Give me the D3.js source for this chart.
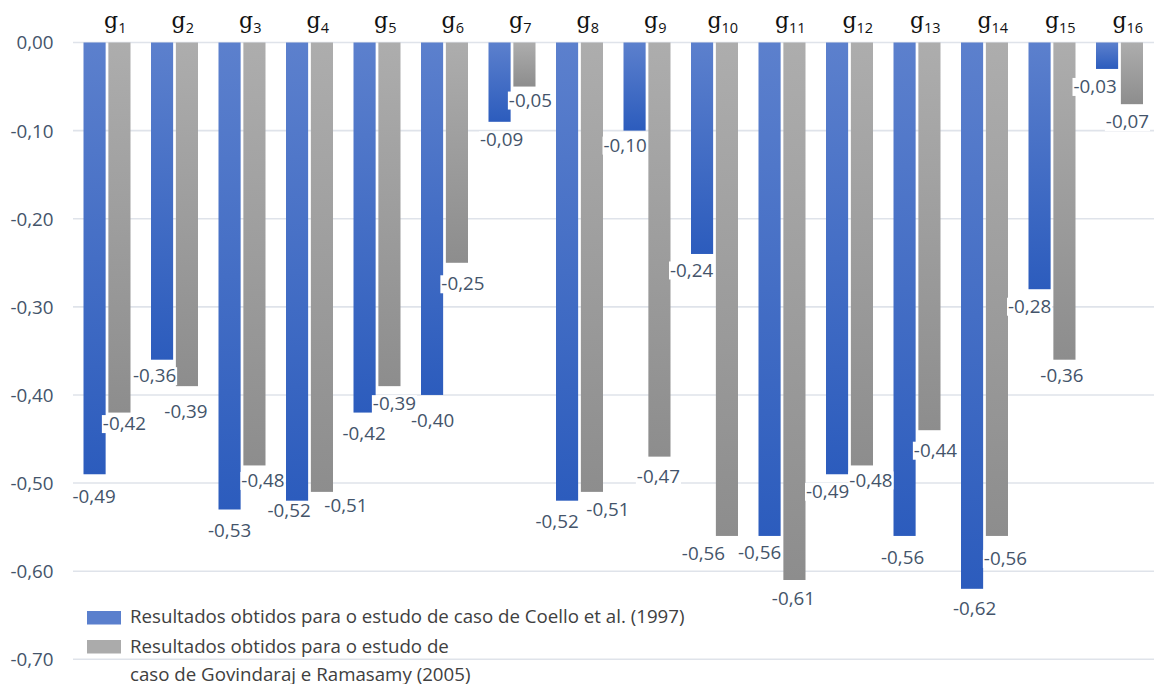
<!DOCTYPE html>
<html>
<head>
<meta charset="utf-8">
<script src="https://cdn.jsdelivr.net/npm/d3@7"></script>
<style>
  html, body { margin: 0; padding: 0; background: #ffffff; }
  svg { display: block; }
</style>
</head>
<body>
<svg id="chart" width="1154" height="684"></svg>
<script>
// Categories (g1 ... g16)
const categories = d3.range(1, 17).map(i => "g" + i);

// Coello et al. (1997)
const coelloValues = [-0.49, -0.36, -0.53, -0.52, -0.42, -0.40, -0.09, -0.52,
                      -0.10, -0.24, -0.56, -0.49, -0.56, -0.62, -0.28, -0.03];

// Govindaraj e Ramasamy (2005)
const govindarajValues = [-0.42, -0.39, -0.48, -0.51, -0.39, -0.25, -0.05, -0.51,
                          -0.47, -0.56, -0.61, -0.48, -0.44, -0.56, -0.36, -0.07];

// Y axis ticks
const yTicks = [0, -0.1, -0.2, -0.3, -0.4, -0.5, -0.6, -0.7];

const seriesNames = [
  ["Resultados obtidos para o estudo de caso de Coello et al. (1997)"],
  ["Resultados obtidos para o estudo de", "caso de Govindaraj e Ramasamy (2005)"]
];

// Hand-placed data label nudges (px from the bar end / bar centre)
const coelloLabelDx = [-0.5, -7.5, 0, -8, -0.5, 0.5, 2, -10, -9.5, -10.5, -10, -9.5, -2, 2.5, -10, -12];
const coelloLabelDy = [22, 16, 21, 10, 20.5, 25, 18, 21, 14.5, 16, 16, 17, 21, 20, 17, 17.5];
const govLabelDx = [5, -1, 8.5, 24, 5, 6, 6, 16, -1, -23.5, -1, 9, 6, 8.5, -2.5, -4.5];
const govLabelDy = [11, 25, 15, 14, 17.5, 21, 13.5, 18, 20, 17.5, 18.5, 14.5, 20, 22.5, 15.5, 17.5];

const svg = d3.select("#chart");
const W = 1154, H = 684;
const plot = { left: 73, right: 1153, top: 42.5, bottom: 659.3 };

const x = d3.scaleBand()
  .domain(categories)
  .range([plot.left, plot.right])
  .paddingInner(0)
  .paddingOuter(0);

const y = d3.scaleLinear()
  .domain([0, -0.7])
  .range([plot.top, plot.bottom]);

// Inner scale for the two series within each category
const inner = d3.scaleBand()
  .domain(["coello", "gov"])
  .range([10.5, 57.5])
  .paddingInner(0.11)
  .paddingOuter(0);

// Gradients
const defs = svg.append("defs");
function grad(id, top, bottom) {
  const g = defs.append("linearGradient")
    .attr("id", id).attr("x1", 0).attr("y1", 0).attr("x2", 0).attr("y2", 1);
  g.append("stop").attr("offset", "0%").attr("stop-color", top);
  g.append("stop").attr("offset", "100%").attr("stop-color", bottom);
}
grad("gradBlue", "#5c80cd", "#2c5cbd");
grad("gradGray", "#adadad", "#8d8d8d");

const tickColor = "#44546a";
const sansFont = "'Open Sans', 'Noto Sans', sans-serif";
const numSize = 18.8;

// Gridlines
const grid = svg.append("g");
grid.selectAll("line")
  .data(yTicks)
  .join("line")
  .attr("x1", plot.left)
  .attr("x2", W)
  .attr("y1", d => y(d))
  .attr("y2", d => y(d))
  .attr("stroke", "#dfe3ea")
  .attr("stroke-width", 1.6);

// Y axis labels
const fmt = v => d3.format(".2f")(v).replace("−", "-").replace(".", ",");
const yAxis = d3.axisLeft(y)
  .tickValues(yTicks)
  .tickSize(0)
  .tickPadding(0)
  .tickFormat(fmt);

svg.append("g")
  .attr("transform", `translate(53.5,0)`)
  .call(yAxis)
  .call(g => g.select(".domain").remove())
  .call(g => g.selectAll("text")
    .attr("font-family", sansFont)
    .attr("font-size", numSize)
    .attr("fill", tickColor)
    .attr("dy", "0.34em"));

// Bars
const series = [
  { key: "coello", values: coelloValues, fill: "url(#gradBlue)", dx: coelloLabelDx, dy: coelloLabelDy },
  { key: "gov", values: govindarajValues, fill: "url(#gradGray)", dx: govLabelDx, dy: govLabelDy }
];

const barsG = svg.append("g");
series.forEach(s => {
  barsG.append("g").selectAll("rect")
    .data(s.values.map((v, i) => ({ v, cat: categories[i] })))
    .join("rect")
    .attr("x", d => x(d.cat) + inner(s.key))
    .attr("width", inner.bandwidth())
    .attr("y", y(0))
    .attr("height", d => y(d.v) - y(0))
    .attr("fill", s.fill);
});

// Data labels (with white backing, drawn above bars)
const labelsG = svg.append("g");
series.forEach(s => {
  s.values.forEach((v, i) => {
    const cx = x(categories[i]) + inner(s.key) + inner.bandwidth() / 2 + s.dx[i];
    const cy = y(v) + s.dy[i];
    const g = labelsG.append("g");
    const bg = g.append("rect").attr("fill", "#ffffff");
    const t = g.append("text")
      .attr("x", cx)
      .attr("y", cy + 6.6)
      .attr("text-anchor", "middle")
      .attr("font-family", sansFont)
      .attr("font-size", numSize)
      .attr("fill", tickColor)
      .text(fmt(v));
    const bb = t.node().getBBox();
    bg.attr("x", bb.x - 1).attr("width", bb.width + 2)
      .attr("y", cy - 8.5).attr("height", 18);
  });
});

// Category labels: g with subscript index
const catG = svg.append("g");
categories.forEach((c, i) => {
  const t = catG.append("text")
    .attr("x", x(c) + x.bandwidth() / 2 + 8.5)
    .attr("y", 27.5)
    .attr("text-anchor", "middle")
    .attr("fill", "#111111");
  t.append("tspan")
    .attr("font-family", "'DejaVu Serif', 'Liberation Serif', serif")
    .attr("font-size", 22)
    .text("g");
  t.append("tspan")
    .attr("font-family", sansFont)
    .attr("font-size", 14.5)
    .attr("dy", 5.5)
    .text(String(i + 1));
});

// Legend
const legend = svg.append("g");
const legendFills = ["#5a7fcd", "#ababab"];
const swatchY = [611, 640];
const textBase = [[622.5], [652.5, 680.5]];
seriesNames.forEach((lines, k) => {
  legend.append("rect")
    .attr("x", 87).attr("y", swatchY[k])
    .attr("width", 34).attr("height", 13.5)
    .attr("fill", legendFills[k]);
  lines.forEach((line, j) => {
    legend.append("text")
      .attr("x", 130)
      .attr("y", textBase[k][j])
      .attr("font-family", sansFont)
      .attr("font-size", 18.7)
      .attr("fill", "#404040")
      .text(line);
  });
});
</script>
</body>
</html>
